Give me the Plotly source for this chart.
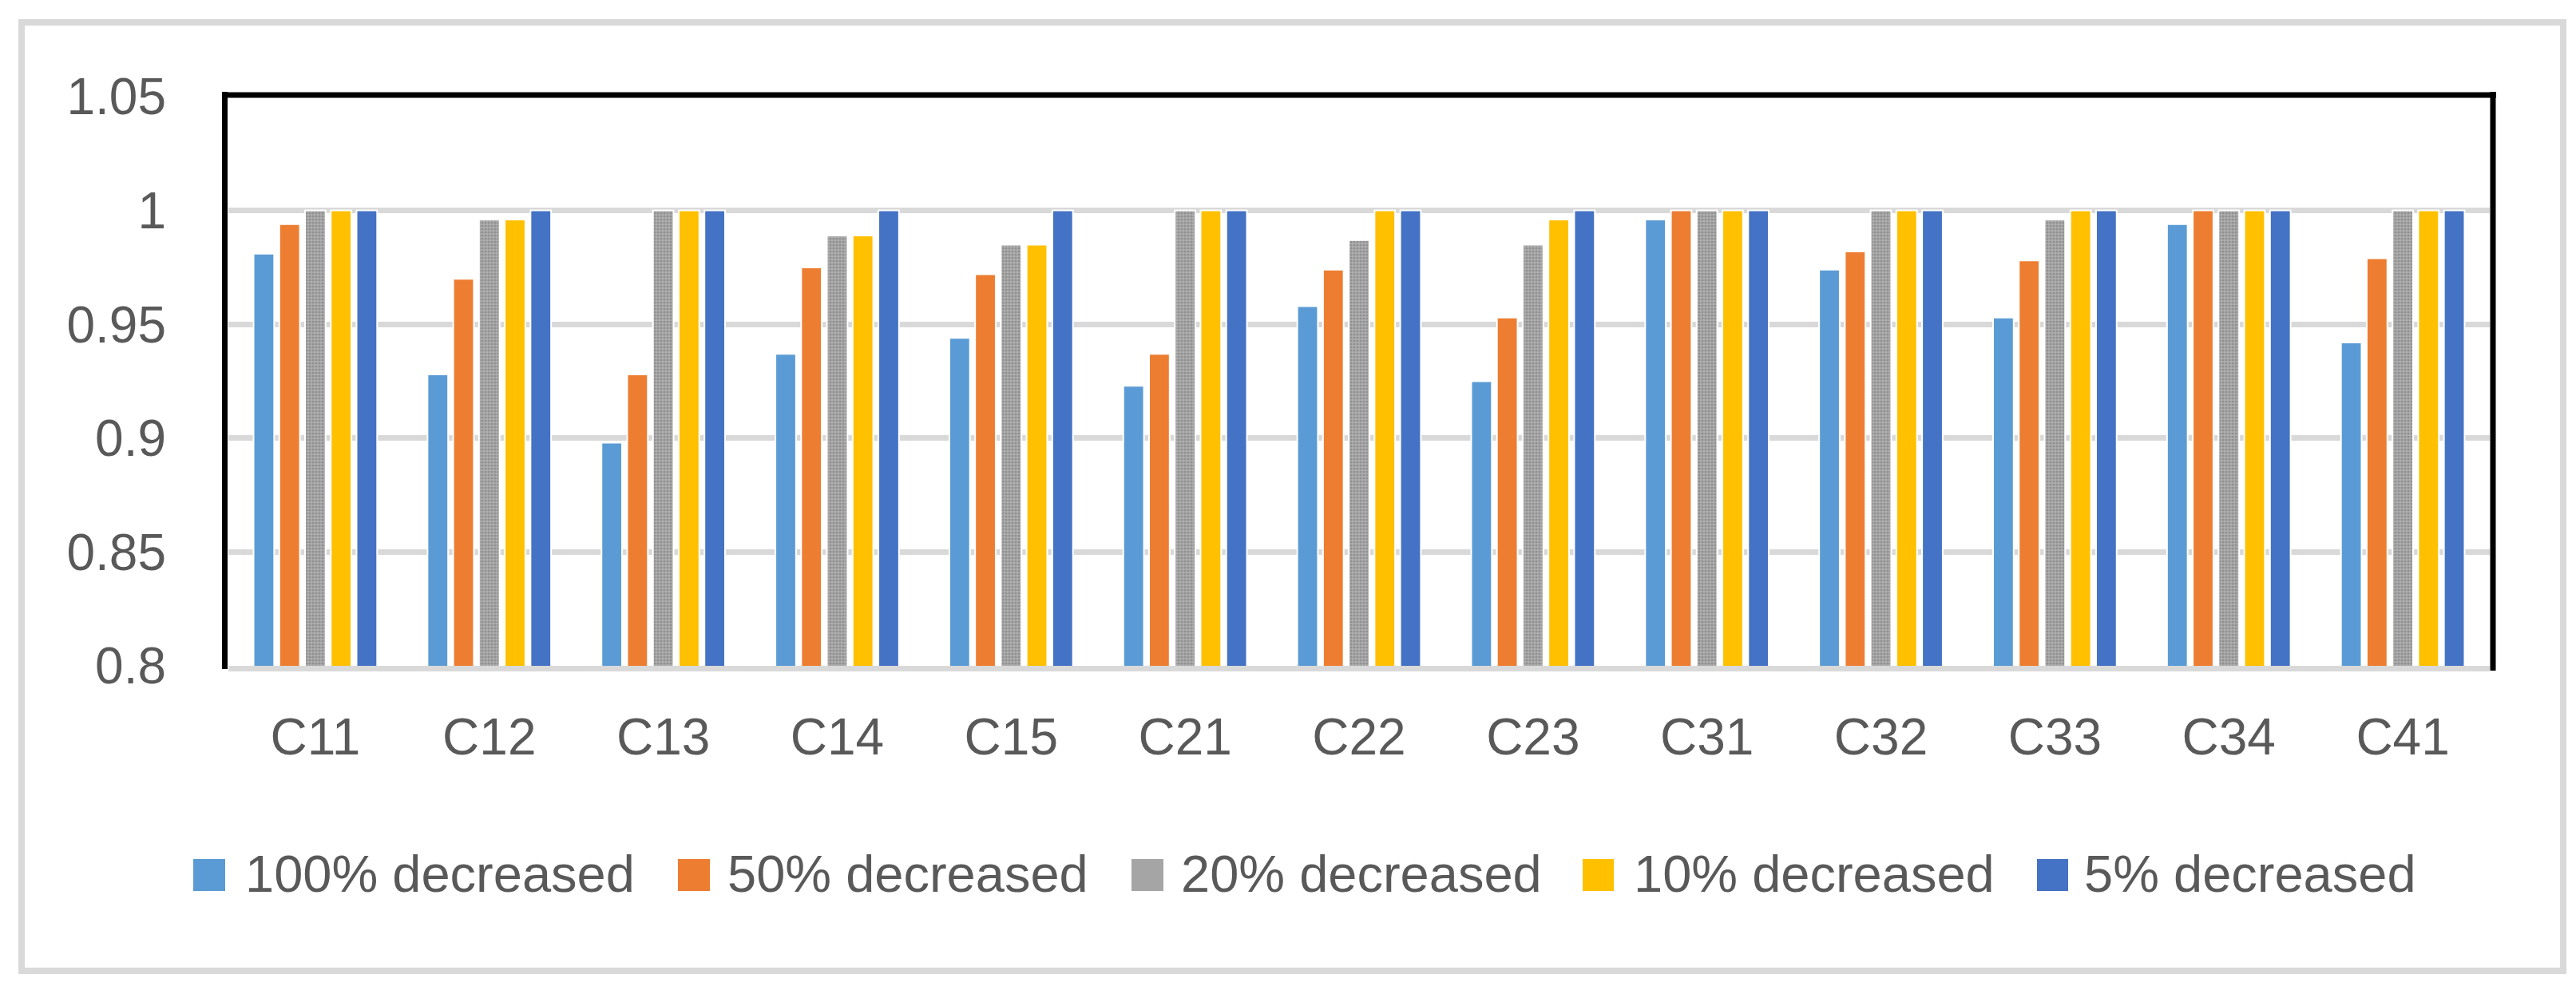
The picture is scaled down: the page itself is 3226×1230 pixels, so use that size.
import plotly.graph_objects as go

categories = ["C11", "C12", "C13", "C14", "C15", "C21", "C22", "C23", "C31", "C32", "C33", "C34", "C41"]
series_names = ["100% decreased", "50% decreased", "20% decreased", "10% decreased", "5% decreased"]

dec_100 = [0.981, 0.928, 0.898, 0.937, 0.944, 0.923, 0.958, 0.925, 0.996, 0.974, 0.953, 0.994, 0.942]
dec_50 = [0.994, 0.970, 0.928, 0.975, 0.972, 0.937, 0.974, 0.953, 1.000, 0.982, 0.978, 1.000, 0.979]
dec_20 = [1.000, 0.996, 1.000, 0.989, 0.985, 1.000, 0.987, 0.985, 1.000, 1.000, 0.996, 1.000, 1.000]
dec_10 = [1.000, 0.996, 1.000, 0.989, 0.985, 1.000, 1.000, 0.996, 1.000, 1.000, 1.000, 1.000, 1.000]
dec_5 = [1.000, 1.000, 1.000, 1.000, 1.000, 1.000, 1.000, 1.000, 1.000, 1.000, 1.000, 1.000, 1.000]

y_ticks = [0.8, 0.85, 0.9, 0.95, 1, 1.05]
y_tick_labels = ["0.8", "0.85", "0.9", "0.95", "1", "1.05"]

series_values = [dec_100, dec_50, dec_20, dec_10, dec_5]
colors = ["#5b9bd5", "#ed7d31", "#a5a5a5", "#ffc000", "#4472c4"]

W, H = 3226, 1230
L, R, T, B = 278, 3110, 113, 826
PW, PH = R - L, B - T


def px(x):
    return (x - L) / PW


def py(y):
    return (B - y) / PH


FONT = "Liberation Sans, Arial, sans-serif"
TXT = "#595959"

fig = go.Figure()
for name, vals, col in zip(series_names, series_values, colors):
    marker = dict(color=col, line=dict(color="white", width=2))
    if name == "20% decreased":
        marker["pattern"] = dict(shape=".", fgcolor="#909090", bgcolor="#b0b0b0",
                                 size=4, solidity=0.5, fillmode="replace")
    fig.add_trace(go.Bar(x=categories, y=vals, name=name, marker=marker, showlegend=False))

fig.update_layout(
    width=W, height=H,
    margin=dict(l=L, r=W - R, t=T, b=H - B, pad=0),
    paper_bgcolor="white", plot_bgcolor="white",
    barmode="group", bargap=0.26, bargroupgap=0.2,
    font=dict(family=FONT, size=64, color=TXT),
)
fig.update_yaxes(range=[0.8, 1.05], tickvals=y_ticks, ticktext=y_tick_labels,
                 showgrid=True, gridcolor="#d9d9d9", gridwidth=7, zeroline=False,
                 showline=False, ticks="", ticklabelstandoff=77,
                 tickfont=dict(family=FONT, size=64, color=TXT))
fig.update_xaxes(showgrid=False, showline=True, linecolor="#d9d9d9", linewidth=7,
                 ticks="", ticklabelstandoff=27,
                 tickfont=dict(family=FONT, size=64, color=TXT))

shapes = []
# outer chart border
shapes.append(dict(type="rect", xref="paper", yref="paper",
                   x0=px(19), x1=px(3202), y0=py(1208), y1=py(20),
                   line=dict(color="#d9d9d9", width=8), fillcolor="rgba(0,0,0,0)", layer="below"))
# black plot frame (left, top, right)
shapes.append(dict(type="line", xref="paper", yref="paper", x0=px(273.5), x1=px(273.5),
                   y0=py(830), y1=py(107), line=dict(color="black", width=7)))
shapes.append(dict(type="line", xref="paper", yref="paper", x0=px(270), x1=px(3118),
                   y0=py(111), y1=py(111), line=dict(color="black", width=7)))
shapes.append(dict(type="line", xref="paper", yref="paper", x0=px(3114), x1=px(3114),
                   y0=py(832), y1=py(107), line=dict(color="black", width=7)))

# legend
sw_x = [(234, 274), (841, 881), (1409, 1449), (1974, 2013), (2543, 2582)]
tx_x = [297, 901, 1469, 2036, 2600]
annotations = []
for (a, b), t, name, col in zip(sw_x, tx_x, series_names, colors):
    shapes.append(dict(type="rect", xref="paper", yref="paper", x0=px(a), x1=px(b),
                       y0=py(1108), y1=py(1068), fillcolor=col, line=dict(width=0)))
    annotations.append(dict(xref="paper", yref="paper", x=px(t), y=py(1086), text=name,
                            showarrow=False, xanchor="left", yanchor="middle",
                            font=dict(family=FONT, size=65, color=TXT)))

fig.update_layout(shapes=shapes, annotations=annotations)
fig.write_html("out.html")
